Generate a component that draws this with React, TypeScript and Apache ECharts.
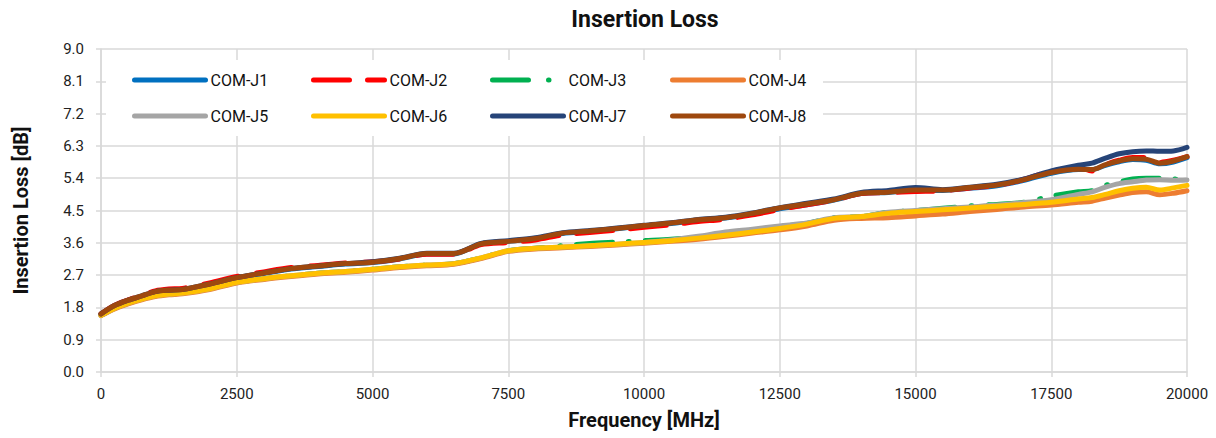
import React, { useEffect, useRef } from "react";
import * as echarts from "echarts";

const FREQ = [0, 250, 500, 750, 1000, 1250, 1500, 2000, 2500, 3000, 3500, 4000, 4500, 5000, 5500, 6000, 6500, 7000, 7500, 8000, 8500, 9000, 9500, 10000, 10500, 11000, 11500, 12000, 12500, 13000, 13500, 14000, 14500, 15000, 15500, 16000, 16500, 17000, 17500, 18000, 18250, 18500, 18750, 19000, 19250, 19500, 19750, 20000];

const J1 = [1.61, 1.84, 1.99, 2.11, 2.23, 2.27, 2.29, 2.44, 2.62, 2.75, 2.87, 2.94, 3.01, 3.05, 3.15, 3.29, 3.29, 3.57, 3.64, 3.72, 3.86, 3.92, 3.99, 4.07, 4.14, 4.23, 4.29, 4.4, 4.55, 4.66, 4.79, 4.97, 5.0, 5.06, 5.06, 5.12, 5.19, 5.34, 5.54, 5.64, 5.64, 5.76, 5.86, 5.92, 5.9, 5.8, 5.85, 5.97];
const J2 = [1.62, 1.86, 2.01, 2.14, 2.26, 2.31, 2.33, 2.48, 2.66, 2.79, 2.91, 2.97, 3.04, 3.07, 3.15, 3.28, 3.28, 3.55, 3.61, 3.68, 3.82, 3.89, 3.95, 4.03, 4.1, 4.19, 4.26, 4.38, 4.53, 4.66, 4.79, 4.97, 5.0, 5.03, 5.05, 5.13, 5.2, 5.37, 5.6, 5.7, 5.6, 5.78, 5.9, 5.98, 5.97, 5.84, 5.9, 6.0];
const J3 = [1.58, 1.78, 1.92, 2.03, 2.12, 2.17, 2.2, 2.32, 2.5, 2.6, 2.68, 2.75, 2.8, 2.86, 2.93, 2.98, 3.02, 3.18, 3.38, 3.45, 3.52, 3.58, 3.62, 3.66, 3.7, 3.76, 3.85, 3.95, 4.05, 4.14, 4.3, 4.33, 4.45, 4.5, 4.56, 4.63, 4.67, 4.73, 4.9, 5.02, 5.05, 5.2, 5.3, 5.38, 5.4, 5.4, 5.38, 5.33];
const J4 = [1.57, 1.76, 1.9, 2.01, 2.1, 2.15, 2.18, 2.3, 2.48, 2.58, 2.66, 2.73, 2.78, 2.84, 2.91, 2.96, 3.0, 3.16, 3.36, 3.43, 3.46, 3.5, 3.54, 3.59, 3.64, 3.7, 3.78, 3.87, 3.96, 4.07, 4.23, 4.28, 4.3, 4.35, 4.4, 4.47, 4.53, 4.6, 4.65, 4.73, 4.76, 4.85, 4.93, 5.0, 5.02, 4.94, 4.98, 5.05];
const J5 = [1.58, 1.78, 1.92, 2.03, 2.12, 2.17, 2.2, 2.32, 2.5, 2.6, 2.68, 2.75, 2.8, 2.86, 2.93, 2.98, 3.02, 3.18, 3.38, 3.45, 3.48, 3.52, 3.56, 3.61, 3.68, 3.78, 3.9, 3.98, 4.07, 4.15, 4.3, 4.33, 4.45, 4.5, 4.55, 4.6, 4.65, 4.72, 4.8, 4.95, 5.02, 5.15, 5.25, 5.3, 5.35, 5.36, 5.34, 5.35];
const J6 = [1.58, 1.78, 1.92, 2.03, 2.12, 2.17, 2.2, 2.32, 2.5, 2.6, 2.68, 2.75, 2.8, 2.86, 2.93, 2.98, 3.02, 3.18, 3.38, 3.45, 3.48, 3.52, 3.56, 3.61, 3.66, 3.73, 3.81, 3.9, 4.0, 4.12, 4.28, 4.33, 4.42, 4.47, 4.52, 4.57, 4.62, 4.67, 4.73, 4.82, 4.86, 4.95, 5.05, 5.12, 5.15, 5.07, 5.13, 5.2];
const J7 = [1.62, 1.85, 2.0, 2.12, 2.24, 2.28, 2.3, 2.45, 2.63, 2.76, 2.88, 2.95, 3.02, 3.07, 3.17, 3.31, 3.31, 3.58, 3.66, 3.74, 3.88, 3.94, 4.01, 4.09, 4.16, 4.25, 4.31, 4.43, 4.58, 4.7, 4.82, 5.0, 5.06, 5.14, 5.08, 5.15, 5.23, 5.38, 5.6, 5.76, 5.82, 5.96, 6.08, 6.14, 6.16, 6.15, 6.16, 6.26];
const J8 = [1.62, 1.85, 2.0, 2.12, 2.24, 2.28, 2.3, 2.45, 2.63, 2.76, 2.88, 2.95, 3.02, 3.06, 3.16, 3.3, 3.3, 3.57, 3.64, 3.72, 3.87, 3.93, 4.0, 4.08, 4.15, 4.24, 4.3, 4.42, 4.57, 4.68, 4.8, 4.98, 5.01, 5.07, 5.07, 5.14, 5.21, 5.36, 5.56, 5.65, 5.64, 5.78, 5.88, 5.94, 5.93, 5.82, 5.88, 6.0];

const NAMES = ["COM-J1", "COM-J2", "COM-J3", "COM-J4", "COM-J5", "COM-J6", "COM-J7", "COM-J8"];
const VALUES = [J1, J2, J3, J4, J5, J6, J7, J8];
const COLORS = ["#0070C0", "#FF0000", "#00B050", "#ED7D31", "#A5A5A5", "#FFC000", "#264478", "#9E480E"];
const DASHES: any[] = ["solid", [36, 18], [36, 16, 1, 16], "solid", "solid", "solid", "solid", "solid"];
const LEGEND_DASHES: any[] = ["solid", [36, 18], [36, 20, 0.5, 40], "solid", "solid", "solid", "solid", "solid"];

const FONT = "Roboto, 'Liberation Sans', sans-serif";

export default function App() {
  const ref = useRef<HTMLDivElement>(null);
  useEffect(() => {
    if (!ref.current) return;
    const chart = echarts.init(ref.current, undefined, { renderer: "svg" });
    const legendLefts = [132, 311, 490, 670];
    const legendTops = [72, 108];
    const legends = NAMES.map((n, i) => ({
      data: [n],
      left: legendLefts[i % 4],
      top: legendTops[Math.floor(i / 4)],
      padding: 0,
      itemWidth: 71,
      itemHeight: 16,
      itemStyle: { opacity: 0, borderWidth: 0 },
      lineStyle: { color: COLORS[i], width: 5, type: LEGEND_DASHES[i], cap: "round" },
      textStyle: { fontFamily: FONT, fontSize: 16, color: "#111" },
      z: 5,
    }));
    chart.setOption({
      animation: false,
      backgroundColor: "#fff",
      title: {
        text: "Insertion Loss",
        left: 640,
        textAlign: "center",
        top: 3,
        textStyle: { fontFamily: FONT, fontSize: 23, fontWeight: "bold", color: "#111" },
      },
      legend: legends,
      graphic: [
        {
          type: "rect",
          shape: { x: 106, y: 60, width: 717, height: 76 },
          style: { fill: "#fff" },
          z: 3,
          silent: true,
        },
      ],
      grid: { left: 101, right: 29, top: 49, bottom: 66 },
      xAxis: {
        type: "value",
        min: 0,
        max: 20000,
        interval: 2500,
        name: "Frequency [MHz]",
        nameLocation: "middle",
        nameGap: 38,
        nameTextStyle: { fontFamily: FONT, fontSize: 20, fontWeight: "bold", color: "#111" },
        axisLine: { show: true, lineStyle: { color: "#D9D9D9", width: 1.5 } },
        axisTick: { show: true, length: 5, lineStyle: { color: "#D9D9D9", width: 1.5 } },
        splitLine: { show: true, lineStyle: { color: "#D9D9D9", width: 1.5 } },
        axisLabel: { fontFamily: FONT, fontSize: 15, color: "#222", margin: 14, formatter: (v: number) => String(v) },
      },
      yAxis: {
        type: "value",
        min: 0,
        max: 9,
        interval: 0.9,
        name: "Insertion Loss [dB]",
        nameLocation: "middle",
        nameGap: 70,
        nameTextStyle: { fontFamily: FONT, fontSize: 20, fontWeight: "bold", color: "#111" },
        axisLine: { show: true, lineStyle: { color: "#D9D9D9", width: 1.5 } },
        axisTick: { show: true, length: 5, lineStyle: { color: "#D9D9D9", width: 1.5 } },
        splitLine: { show: true, lineStyle: { color: "#D9D9D9", width: 1.5 } },
        axisLabel: {
          fontFamily: FONT,
          fontSize: 15,
          color: "#222",
          margin: 17,
          formatter: (v: number) => v.toFixed(1),
        },
      },
      series: NAMES.map((n, i) => ({
        name: n,
        type: "line",
        smooth: 0.3,
        showSymbol: false,
        symbol: "none",
        data: FREQ.map((f, k) => [f, VALUES[i][k]]),
        itemStyle: { color: COLORS[i] },
        lineStyle: { color: COLORS[i], width: 5, type: DASHES[i], cap: "round", join: "round" },
        z: 2,
      })),
    });
    return () => chart.dispose();
  }, []);
  return <div ref={ref} style={{ position: "fixed", left: 0, top: 0, width: 1216, height: 438 }} />;
}
